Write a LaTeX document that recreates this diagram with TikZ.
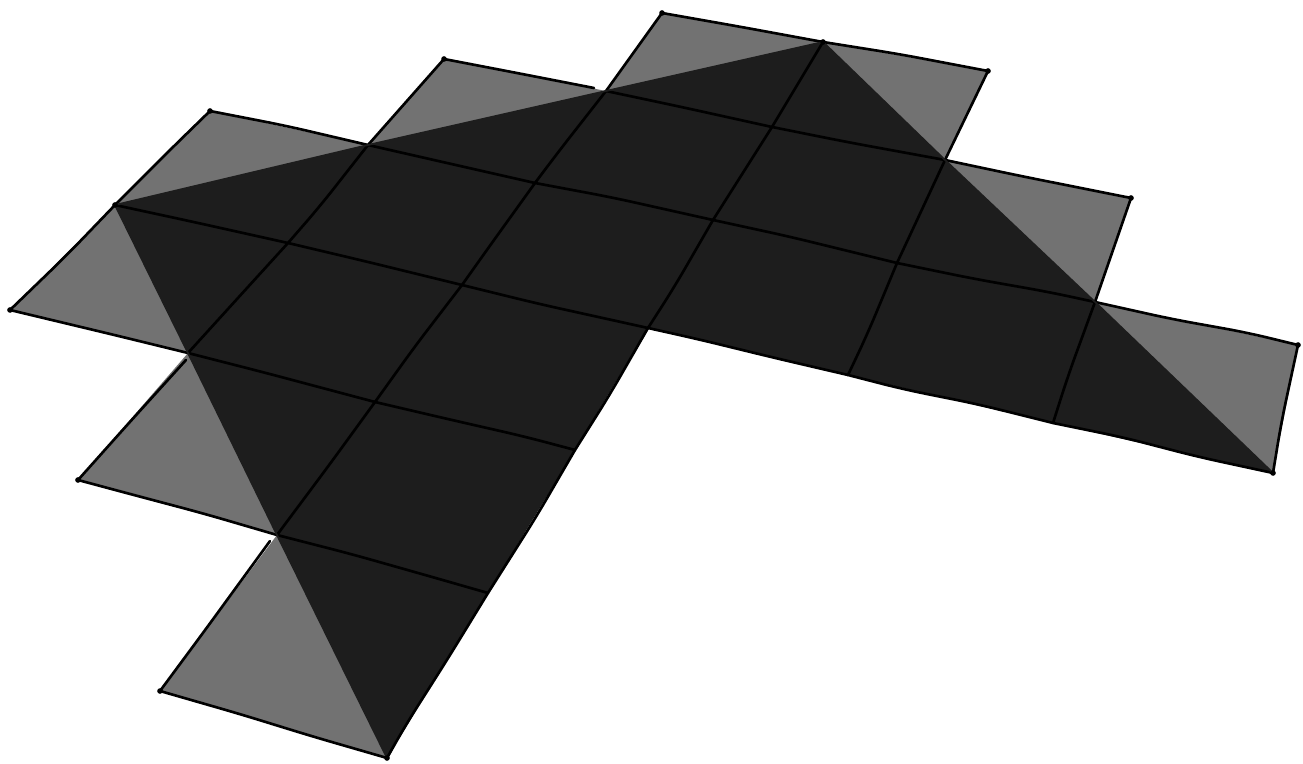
\documentclass[tikz,border=0pt]{standalone}
\usepackage{xcolor}
\usetikzlibrary{decorations.pathmorphing}
\definecolor{flapgray}{HTML}{727272}
\definecolor{sheetdark}{HTML}{1D1D1D}
\tikzset{
  sketch/.style={line width=0.75pt,line cap=round,rounded corners=6pt,decorate,
    decoration={random steps,segment length=22pt,amplitude=0.45pt}},
  inner/.style={sketch,black},
  rim/.style={sketch,black}
}
\begin{document}
\begin{tikzpicture}[x=0.01cm,y=-0.01cm]
\pgfmathsetseed{7}
\useasboundingbox (0,0) rectangle (1303,764);
% grid points, row by row
\coordinate (a0) at (662,13);
\coordinate (a1) at (823,42);
\coordinate (a2) at (988,71);
\coordinate (b0) at (444,59);
\coordinate (b1) at (606,91);
\coordinate (b2) at (772,127);
\coordinate (b3) at (945,160);
\coordinate (b4) at (1131,198);
\coordinate (c0) at (210,111);
\coordinate (c1) at (368,145);
\coordinate (c2) at (535,183);
\coordinate (c3) at (713,220);
\coordinate (c4) at (897,263);
\coordinate (c5) at (1095,302);
\coordinate (c6) at (1298,345);
\coordinate (d0) at (115,205);
\coordinate (d1) at (288,243);
\coordinate (d2) at (462,285);
\coordinate (d3) at (648,328);
\coordinate (d4) at (848,375);
\coordinate (d5) at (1053,423);
\coordinate (d6) at (1273,473);
\coordinate (e0) at (10,310);
\coordinate (e1) at (188,353);
\coordinate (e2) at (375,402);
\coordinate (e3) at (575,450);
\coordinate (f0) at (78,480);
\coordinate (f1) at (277,535);
\coordinate (f2) at (488,593);
\coordinate (g0) at (160,691);
\coordinate (g1) at (387,758);
% flap ends that stop short of the grid
\coordinate (b1end) at (594,88);
\coordinate (e1end) at (186,360);
\coordinate (f1end) at (270,541);

% gray flaps
\foreach \P/\Q/\R in {e0/d0/e1,d0/c0/c1,c1/b0/b1,b1/a0/a1,a1/a2/b3,b3/b4/c5,c5/c6/d6,f0/e1/f1,g0/f1/g1}{
  \fill[flapgray] (\P) -- (\Q) -- (\R) -- cycle;
}
% dark sheet
\fill[sheetdark] (d0) -- (c1) -- (b1) -- (a1) -- (b3) -- (c5) -- (d6) -- (d5) -- (d4) -- (d3)
  -- (e3) -- (f2) -- (g1) -- (f1) -- (e1) -- cycle;

% lines along the rows
\foreach \A/\B in {b1/b2,b2/b3,c1/c2,c2/c3,c3/c4,c4/c5,d0/d1,d1/d2,d2/d3,e1/e2,e2/e3,f1/f2}{
  \draw[inner] (\A) -- (\B);
}
% lines across the rows
\foreach \A/\B in {a1/b2,b2/c3,c3/d3,b1/c2,c2/d2,d2/e2,e2/f1,c1/d1,d1/e1,b3/c4,c4/d4,c5/d5}{
  \draw[inner] (\A) -- (\B);
}
% outer rim
\foreach \A/\B in {e0/d0,d0/c0,c0/c1,c1/b0,b0/b1end,b1/a0,a0/a1,a1/a2,a2/b3,b3/b4,b4/c5,c5/c6,c6/d6,
  d6/d5,d5/d4,d4/d3,d3/e3,e3/f2,f2/g1,g1/g0,g0/f1end,f1/f0,f0/e1end,e1/e0}{
  \draw[rim] (\A) -- (\B);
}
% diagonals between flaps and sheet
\foreach \A/\B in {d0/c1,c1/b1,b1/a1,a1/b3,b3/c5,c5/d6,d0/e1,e1/f1,f1/g1}{
  \draw[line width=0.5pt,sheetdark] (\A) -- (\B);
}
% pen marks at the tips
\foreach \P in {a0,a1,a2,b0,b4,c0,c6,d0,d6,e0,f0,g0,g1}{
  \fill[black] (\P) circle (0.8pt);
}
\end{tikzpicture}
\end{document}
